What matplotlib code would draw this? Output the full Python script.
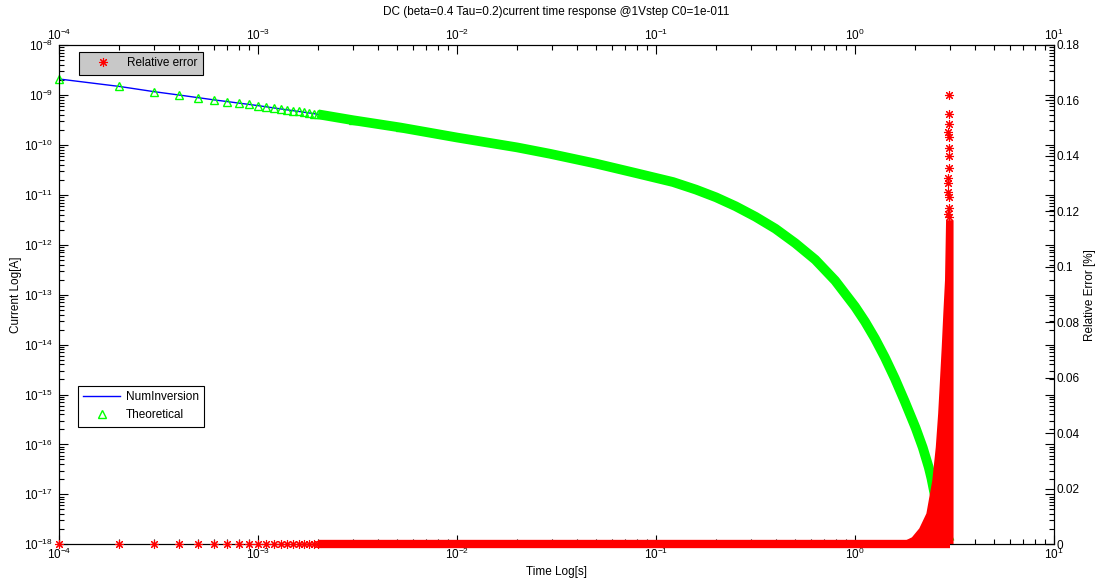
import numpy as np
import matplotlib
matplotlib.use("Agg")
import matplotlib.pyplot as plt
from matplotlib.ticker import LogLocator, FixedLocator, FuncFormatter, NullFormatter

# =========================
# data
# =========================

# sparse start: one sample every 1e-4 s, markers still visible one by one
time_sparse = [1e-4, 2e-4, 3e-4, 4e-4, 5e-4, 6e-4, 7e-4, 8e-4, 9e-4, 1.0e-3,
               1.1e-3, 1.2e-3, 1.3e-3, 1.4e-3, 1.5e-3, 1.6e-3, 1.7e-3, 1.8e-3, 1.9e-3, 2.0e-3]
current_sparse = [2.08e-9, 1.48e-9, 1.16e-9, 9.95e-10, 8.8e-10, 7.95e-10, 7.35e-10, 6.85e-10, 6.45e-10, 6.1e-10,
                  5.77e-10, 5.48e-10, 5.24e-10, 5.02e-10, 4.83e-10, 4.66e-10, 4.50e-10, 4.35e-10, 4.22e-10, 4.09e-10]
err_sparse = [0, 0, 0, 0, 0, 0, 0, 0, 0, 0,
              0, 0, 0, 0, 0, 0, 0, 0, 0, 0]

# dense part: markers merge into a band
time_dense = [2.0e-3, 3.0e-3, 5.16e-3, 0.01, 0.02, 0.0293, 0.05, 0.0794, 0.1216, 0.1585,
              0.2, 0.251, 0.316, 0.398, 0.501, 0.631, 0.794, 1.0, 1.122, 1.259,
              1.413, 1.585, 1.778, 2.016, 2.188, 2.346, 2.42, 2.6, 2.8, 3.0]
current_dense = [4.09e-10, 3.11e-10, 2.23e-10, 1.40e-10, 8.89e-11, 6.62e-11, 4.2e-11, 2.71e-11, 1.80e-11, 1.27e-11,
                 8.9e-12, 5.89e-12, 3.63e-12, 2.09e-12, 1.07e-12, 5.01e-13, 1.91e-13, 5.75e-14, 2.88e-14, 1.32e-14,
                 5.5e-15, 2.09e-15, 7.24e-16, 2.14e-16, 8.7e-17, 3.47e-17, 2.09e-17, 5.0e-18, 2.0e-18, 1.1e-18]

# relative error: flat band at zero, then a noisy spike near t = 3 s
err_band_time = [2.0e-3, 3.0]
err_band_value = [0, 0]
env_err = [0.0, 0.0017, 0.0027, 0.0059, 0.0113, 0.0232, 0.0352, 0.0472, 0.0592, 0.0712, 0.0833, 0.0953, 0.117]
env_time_left = [1.78, 1.80, 1.92, 2.09, 2.27, 2.43, 2.53, 2.60, 2.655, 2.71, 2.76, 2.815, 2.85]
env_time_right = 3.108
spike_time = [2.957, 2.961, 2.957, 2.92, 2.98, 2.957, 2.957, 2.957, 2.932, 2.932, 2.918, 2.957, 2.957, 2.94, 2.97]
spike_err = [0.1619, 0.1550, 0.1514, 0.1487, 0.1469, 0.1430, 0.1401, 0.1356, 0.1319, 0.1301, 0.1271, 0.1251,
             0.1213, 0.119, 0.118]

err_ticks = [0, 0.02, 0.04, 0.06, 0.08, 0.1, 0.12, 0.14, 0.16, 0.18]

TITLE = "DC (beta=0.4 Tau=0.2)current time response @1Vstep C0=1e-011"

GREEN = "#00ff00"
RED = "#ff0000"
BLUE = "#0000ff"
STAR = (8, 2, 0)

plt.rcParams.update({
    "font.family": ["Liberation Sans", "DejaVu Sans"],
    "font.size": 8.5,
    "mathtext.fontset": "custom",
    "mathtext.rm": "Liberation Sans",
    "mathtext.it": "Liberation Sans:italic",
    "mathtext.bf": "Liberation Sans:bold",
    "axes.linewidth": 0.8,
})

fig = plt.figure(figsize=(11, 5.88), dpi=100)
ax1 = fig.add_axes([0.0539, 0.0743, 0.9043, 0.8492])
ax1.set_xscale("log")
ax1.set_yscale("log")

time_all = time_sparse + time_dense[1:]
current_all = current_sparse + current_dense[1:]

h_num, = ax1.plot(time_all, current_all, color=BLUE, lw=1.0, zorder=2)
ax1.plot(time_dense, current_dense, color=GREEN, lw=7, solid_capstyle="butt",
         solid_joinstyle="round", zorder=3)
h_theo, = ax1.plot(time_sparse + time_dense[1:3], current_sparse + current_dense[1:3], ls="none",
                   marker="^", ms=6, mfc="none", mec=GREEN, mew=1.0, zorder=4, clip_on=False)

ax1.set_xlim(1e-4, 10)
ax1.set_ylim(1e-18, 1e-8)
for axis in (ax1.xaxis, ax1.yaxis):
    axis.set_major_locator(LogLocator(base=10, numticks=20))
    axis.set_minor_locator(LogLocator(base=10, subs=np.arange(2, 10), numticks=200))
    axis.set_minor_formatter(NullFormatter())

ax2 = ax1.twinx()
ax2.set_ylim(0, 0.18)
ax2.fill_betweenx(env_err, env_time_left, env_time_right, color=RED, lw=0, zorder=2)
ax2.plot(err_band_time, err_band_value, color=RED, lw=6, solid_capstyle="butt", clip_on=False, zorder=3)
h_err, = ax2.plot(time_sparse, err_sparse, ls="none", marker=STAR, ms=6.5, mec=RED, mew=0.8,
                  clip_on=False, zorder=4)
ax2.plot(spike_time, spike_err, ls="none", marker=STAR, ms=6.5, mec=RED, mew=0.8, zorder=4)
ax2.yaxis.set_major_locator(FixedLocator(err_ticks))
ax2.yaxis.set_major_formatter(FuncFormatter(lambda v, p: f"{v:g}"))

ax1.tick_params(which="both", direction="in", top=True, bottom=True, labeltop=True, width=0.8)
ax1.tick_params(axis="y", which="both", left=True, right=True, labelright=False, pad=4.5)
ax1.tick_params(axis="x", pad=1.5)
ax1.tick_params(which="major", length=6.5)
ax1.tick_params(which="minor", length=3.6)
ax2.tick_params(axis="y", direction="in", length=6.5, width=0.8, pad=2)

ax1.set_xlabel("Time Log[s]", labelpad=3)
ax1.set_ylabel("Current Log[A]", labelpad=1.5)
ax2.set_ylabel("Relative Error [%]", labelpad=3)

fig.text(556 / 1100, 1 - 12 / 588, TITLE, ha="center", va="center")

leg_kw = dict(loc="upper left", bbox_transform=fig.transFigure, borderaxespad=0, fancybox=False,
              edgecolor="black", framealpha=1, handlelength=3.1, handletextpad=0.5,
              borderpad=0.45, numpoints=1, fontsize=8.5)
leg1 = ax2.legend([h_err], ["Relative error"], bbox_to_anchor=(79 / 1100, 1 - 52 / 588),
                  facecolor="#c8c8c8", **leg_kw)
leg1.get_frame().set_linewidth(0.8)
leg2 = ax1.legend([h_num, h_theo], ["NumInversion", "Theoretical"], bbox_to_anchor=(78 / 1100, 1 - 386 / 588),
                  facecolor="white", **leg_kw)
leg2.get_frame().set_linewidth(0.8)

fig.savefig("out.png", dpi=100)
